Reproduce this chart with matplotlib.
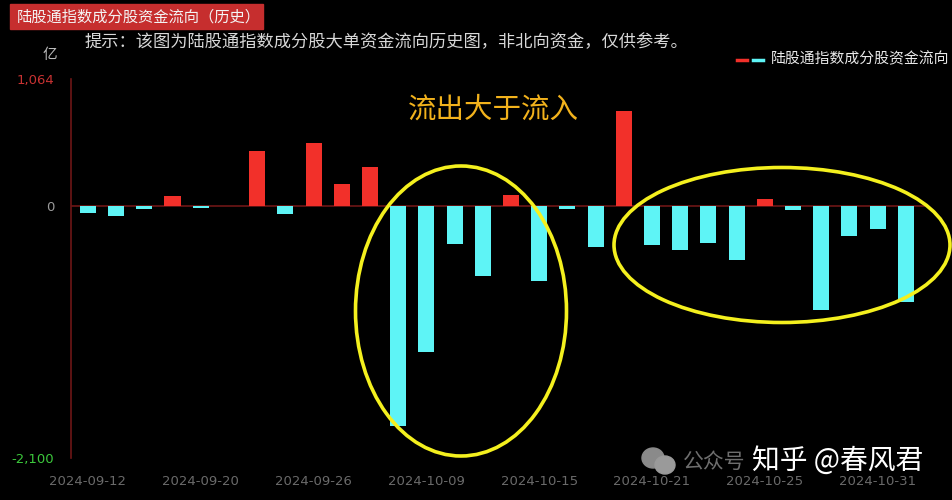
import matplotlib
matplotlib.use("Agg")
import matplotlib.pyplot as plt
from matplotlib.patches import Ellipse, Rectangle

plt.rcParams['font.family'] = ['Noto Sans CJK SC', 'DejaVu Sans']

dates = ["2024-09-12", "2024-09-13", "2024-09-18", "2024-09-19", "2024-09-20",
         "2024-09-23", "2024-09-24", "2024-09-25", "2024-09-26", "2024-09-27",
         "2024-09-30", "2024-10-08", "2024-10-09", "2024-10-10", "2024-10-11",
         "2024-10-14", "2024-10-15", "2024-10-16", "2024-10-17", "2024-10-18",
         "2024-10-21", "2024-10-22", "2024-10-23", "2024-10-24", "2024-10-25",
         "2024-10-28", "2024-10-29", "2024-10-30", "2024-10-31", "2024-11-01"]
values = [-55, -83, -20, 85, -12,
          0, 462, -66, 529, 188,
          326, -1830, -1215, -310, -581,
          96, -622, -22, -338, 794,
          -321, -362, -305, -448, 63,
          -31, -861, -249, -188, -794]
y_max = 1064
y_min = -2100
tick_step = 4

RED = "#f2302a"
CYAN = "#5ef4f6"
AXRED = "#6e1616"

fig = plt.figure(figsize=(9.52, 5.0), dpi=100, facecolor="black")
W, H = 952, 500
ax = fig.add_axes([71 / W, 1 - 458 / H, (927 - 71) / W, (458 - 79) / H])
ax.set_facecolor("black")

x = list(range(len(values)))
colors = [RED if v > 0 else CYAN for v in values]
ax.bar(x, values, width=0.57, color=colors, zorder=3)
ax.axhline(0, color=AXRED, lw=1.2, zorder=2)

ax.set_xlim(-0.6, len(values) - 0.25)
ax.set_ylim(y_min, y_max)

for s in ["top", "right", "bottom"]:
    ax.spines[s].set_visible(False)
ax.spines["left"].set_color(AXRED)
ax.spines["left"].set_linewidth(1.2)

ax.set_xticks(x[::tick_step])
ax.set_xticklabels(dates[::tick_step], color="#6a6a6a", fontsize=9.5,
                   family=["DejaVu Sans"])
ax.tick_params(axis="x", length=0, pad=12)

ax.set_yticks([y_min, 0, y_max])
ax.set_yticklabels([f"{y_min:,}", "0", f"{y_max:,}"], fontsize=9.5,
                   family=["DejaVu Sans"])
ytl = ax.get_yticklabels()
ytl[0].set_color("#3cc83c")
ytl[1].set_color("#9a9a9a")
ytl[2].set_color("#c83232")
ax.tick_params(axis="y", length=0, pad=12)

# title box
fig.add_artist(Rectangle((10 / W, 1 - 29 / H), 253 / W, 25 / H,
                         transform=fig.transFigure, color="#c62e2e", zorder=1))
fig.text(17 / W, 1 - 17 / H, "陆股通指数成分股资金流向（历史）", color="#f4f4f4",
         fontsize=11, va="center", ha="left")
fig.text(85 / W, 1 - 42 / H,
         "提示：该图为陆股通指数成分股大单资金流向历史图，非北向资金，仅供参考。",
         color="#d8d8d8", fontsize=12.4, va="center", ha="left")
fig.text(57 / W, 1 - 55 / H, "亿", color="#bbbbbb", fontsize=10.5,
         va="center", ha="right")

# legend
fig.add_artist(plt.Line2D([737 / W, 747 / W], [1 - 60 / H] * 2,
                          transform=fig.transFigure, color=RED, lw=2.5))
fig.add_artist(plt.Line2D([753 / W, 763 / W], [1 - 60 / H] * 2,
                          transform=fig.transFigure, color=CYAN, lw=2.5))
fig.text(771 / W, 1 - 59 / H, "陆股通指数成分股资金流向", color="#e8e8e8",
         fontsize=10.7, va="center", ha="left")

# annotation
fig.text(408 / W, 1 - 110 / H, "流出大于流入", color="#f2b21c", fontsize=20.5,
         va="center", ha="left")
fig.add_artist(Ellipse((461 / W, 1 - 311 / H), 211 / W, 290 / H,
                       transform=fig.transFigure, fill=False,
                       edgecolor="#f4f01e", lw=2.6, zorder=5))
fig.add_artist(Ellipse((782 / W, 1 - 245 / H), 336 / W, 155 / H,
                       transform=fig.transFigure, fill=False,
                       edgecolor="#f4f01e", lw=2.6, zorder=5))

# watermark
fig.add_artist(Ellipse((653 / W, 1 - 458 / H), 22 / W, 20 / H,
                       transform=fig.transFigure, color="#8a8a8a", zorder=6))
fig.add_artist(Ellipse((665 / W, 1 - 465 / H), 20 / W, 18 / H,
                       transform=fig.transFigure, color="#9a9a9a", zorder=6))
fig.text(683 / W, 1 - 462 / H, "公众号", color="#8a8a8a", fontsize=15,
         va="center", ha="left", alpha=0.8, zorder=6)
fig.text(752 / W, 1 - 461 / H, "知乎 @春风君", color="white", fontsize=20,
         va="center", ha="left", zorder=7)

fig.savefig("out.png", dpi=100, facecolor="black")
